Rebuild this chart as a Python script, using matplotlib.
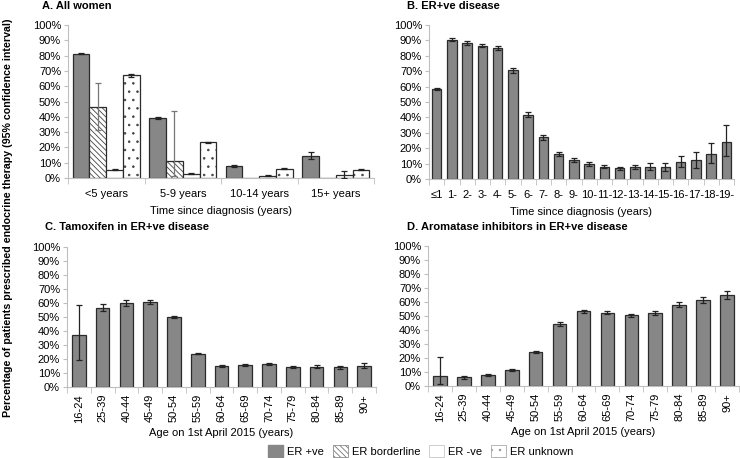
"""
Endocrine therapy prescribing: four bar panels (A-D) with 95% CI error bars
"""
import numpy as np
import matplotlib.pyplot as plt
from matplotlib.patches import Patch
from matplotlib.ticker import FuncFormatter

plt.rcParams['font.family'] = ['Liberation Sans', 'DejaVu Sans']
plt.rcParams['font.size'] = 8
plt.rcParams['hatch.linewidth'] = 0.6

# ---------- Panel A: all women, by ER status ----------
time_groups = ['<5 years', '5-9 years', '10-14 years', '15+ years']
er_pos = [81.2, 39.2, 7.6, 14.5]
er_pos_lo = [80.9, 38.7, 6.9, 12.2]
er_pos_hi = [81.5, 39.7, 8.3, 17.2]
er_border = [46.3, 11.3, 0, 0]
er_border_lo = [31.2, 1.2, np.nan, np.nan]
er_border_hi = [62.0, 44.0, np.nan, np.nan]
er_neg = [5.5, 2.7, 1.6, 2.1]
er_neg_lo = [5.2, 2.4, 1.1, 0.0]
er_neg_hi = [5.8, 3.0, 2.1, 4.7]
er_unk = [67.0, 23.3, 6.1, 5.4]
er_unk_lo = [66.2, 23.0, 5.8, 5.1]
er_unk_hi = [67.8, 23.6, 6.4, 5.7]

# ---------- Panel B: ER+ve by year since diagnosis ----------
years = ['≤1', '1-', '2-', '3-', '4-', '5-', '6-', '7-', '8-', '9-',
         '10-', '11-', '12-', '13-', '14-', '15-', '16-', '17-', '18-', '19-']
year_pct = [58.5, 90.3, 88.3, 86.6, 84.8, 70.5, 41.8, 27.0, 16.2, 12.4,
            9.8, 8.0, 6.9, 7.5, 7.8, 7.9, 11.3, 12.5, 16.3, 24.2]
year_lo = [57.6, 89.3, 87.3, 85.6, 83.6, 69.0, 40.0, 25.6, 15.0, 11.2,
           8.7, 7.0, 5.9, 6.2, 5.8, 5.5, 8.0, 6.9, 10.2, 14.9]
year_hi = [59.4, 91.3, 89.3, 87.6, 86.2, 72.0, 43.6, 28.6, 17.6, 13.8,
           11.0, 9.2, 8.0, 9.0, 10.3, 10.5, 14.9, 17.7, 23.6, 35.1]

# ---------- Panels C/D: ER+ve by age ----------
ages = ['16-24', '25-39', '40-44', '45-49', '50-54', '55-59', '60-64',
        '65-69', '70-74', '75-79', '80-84', '85-89', '90+']
tam_pct = [37.5, 56.6, 59.9, 60.4, 49.9, 23.9, 15.0, 15.8, 16.2, 14.1, 14.6, 14.1, 15.3]
tam_lo = [19.0, 54.2, 57.7, 59.0, 49.0, 23.3, 14.5, 15.3, 15.6, 13.5, 13.8, 13.2, 13.8]
tam_hi = [58.5, 59.0, 62.2, 61.8, 50.9, 24.6, 15.6, 16.4, 16.8, 14.8, 15.4, 15.0, 16.9]
ai_pct = [6.8, 6.2, 8.1, 11.6, 24.5, 44.3, 53.3, 52.4, 50.4, 52.4, 58.0, 61.7, 65.2]
ai_lo = [1.5, 5.2, 7.4, 11.0, 23.9, 43.2, 52.3, 51.4, 49.3, 51.0, 56.2, 59.3, 62.1]
ai_hi = [20.5, 7.2, 8.8, 12.2, 25.1, 45.5, 54.3, 53.4, 51.5, 53.9, 59.8, 63.6, 67.9]

BAR_GRAY = '#878787'
EDGE = '#2b2b2b'
AXIS_GRAY = '#bfbfbf'
HATCH_DIAG = '\\\\\\\\\\\\'
HATCH_DOTS = '..'
W, H = 740, 458


def px_axes(fig, left, top, right, bottom):
    """axes from pixel box (origin top-left)"""
    return fig.add_axes([left / W, 1 - bottom / H, (right - left) / W, (bottom - top) / H])


def style_axis(ax, labels, rotate=False):
    n = len(labels)
    ax.set_ylim(0, 100)
    ax.set_yticks(range(0, 101, 10))
    ax.yaxis.set_major_formatter(FuncFormatter(lambda v, _: f'{v:.0f}%'))
    ax.set_xlim(-0.5, n - 0.5)
    ax.set_xticks(range(n))
    ax.set_xticklabels(labels, rotation=90 if rotate else 0)
    ax.set_xticks(np.arange(-0.5, n), minor=True)
    for side in ['top', 'right']:
        ax.spines[side].set_visible(False)
    for side in ['left', 'bottom']:
        ax.spines[side].set_color(AXIS_GRAY)
    ax.tick_params(axis='y', length=3, color=AXIS_GRAY, pad=2, labelsize=8)
    ax.tick_params(axis='x', which='major', length=0, pad=5 if rotate else 8, labelsize=8)
    ax.tick_params(axis='x', which='minor', length=4, color=AXIS_GRAY)


def err(vals, lo, hi):
    v, l, h = np.array(vals, float), np.array(lo, float), np.array(hi, float)
    return [v - l, h - v]


def single_panel(ax, labels, vals, lo, hi, width, rotate):
    x = np.arange(len(labels))
    ax.bar(x, vals, width, color=BAR_GRAY, edgecolor=EDGE, linewidth=0.9, zorder=2)
    ax.errorbar(x, vals, yerr=err(vals, lo, hi), fmt='none', ecolor='#222222',
                elinewidth=0.9, capsize=2, capthick=0.9, zorder=3)
    style_axis(ax, labels, rotate)


fig = plt.figure(figsize=(W / 100, H / 100), dpi=100)

# A
axA = px_axes(fig, 68, 25, 374, 178)
xa = np.arange(len(time_groups))
bw = 0.22
series = [
    (er_pos, er_pos_lo, er_pos_hi, dict(color=BAR_GRAY)),
    (er_border, er_border_lo, er_border_hi, dict(color='white', hatch=HATCH_DIAG)),
    (er_neg, er_neg_lo, er_neg_hi, dict(color='white')),
    (er_unk, er_unk_lo, er_unk_hi, dict(color='white', hatch=HATCH_DOTS)),
]
for k, (vals, lo, hi, kw) in enumerate(series):
    pos = xa + (k - 1.5) * bw
    if 'hatch' in kw:
        # hatch drawn in gray, outline drawn on top in dark
        axA.bar(pos, vals, bw, color='white', edgecolor='#444444', hatch=kw['hatch'],
                linewidth=0, zorder=2)
        axA.bar(pos, vals, bw, fill=False, edgecolor=EDGE, linewidth=0.9, zorder=2)
    else:
        axA.bar(pos, vals, bw, color=kw['color'], edgecolor=EDGE, linewidth=0.9, zorder=2)
    ecol = '#777777' if k == 1 else '#222222'
    axA.errorbar(pos, vals, yerr=err(vals, lo, hi), fmt='none', ecolor=ecol,
                 elinewidth=0.9, capsize=2, capthick=0.9, zorder=3)
style_axis(axA, time_groups)
axA.set_xlabel('Time since diagnosis (years)', labelpad=5, fontsize=8)

# B
axB = px_axes(fig, 429, 25, 734, 179)
single_panel(axB, years, year_pct, year_lo, year_hi, 0.62, False)
axB.set_xlabel('Time since diagnosis (years)', labelpad=5, fontsize=8)

# C
axC = px_axes(fig, 67, 247, 376, 387)
single_panel(axC, ages, tam_pct, tam_lo, tam_hi, 0.57, True)
axC.set_xlabel('Age on 1st April 2015 (years)', labelpad=4, fontsize=8)

# D
axD = px_axes(fig, 428, 246, 739, 386)
single_panel(axD, ages, ai_pct, ai_lo, ai_hi, 0.57, True)
axD.set_xlabel('Age on 1st April 2015 (years)', labelpad=4, fontsize=8)

# panel titles
fig.text(42 / W, 1 - 6 / H, 'A. All women', fontweight='bold', va='center', fontsize=8)
fig.text(407 / W, 1 - 6 / H, 'B. ER+ve disease', fontweight='bold', va='center', fontsize=8)
fig.text(45 / W, 1 - 227 / H, 'C. Tamoxifen in ER+ve disease', fontweight='bold', va='center', fontsize=8)
fig.text(407 / W, 1 - 227 / H, 'D. Aromatase inhibitors in ER+ve disease', fontweight='bold',
         va='center', fontsize=8)

fig.text(8 / W, 1 - 218 / H,
         'Percentage of patients prescribed endocrine therapy (95% confidence interval)',
         rotation=90, fontweight='bold', va='center', ha='center', fontsize=7.7)

# legend
handles = [
    Patch(facecolor=BAR_GRAY, edgecolor=BAR_GRAY, label='ER +ve'),
    Patch(facecolor='white', edgecolor='#777777', hatch=HATCH_DIAG, linewidth=0.5, label='ER borderline'),
    Patch(facecolor='white', edgecolor='#bbbbbb', linewidth=0.5, label='ER -ve'),
    Patch(facecolor='white', edgecolor='#999999', hatch=HATCH_DOTS, linewidth=0.5, label='ER unknown'),
]
fig.legend(handles=handles, loc='center', bbox_to_anchor=(421 / W, 1 - 451 / H), ncol=4,
           frameon=False, fontsize=8, handlelength=1.3, handleheight=1.3,
           handletextpad=0.4, columnspacing=0.8)

fig.savefig('out.png', dpi=100)
